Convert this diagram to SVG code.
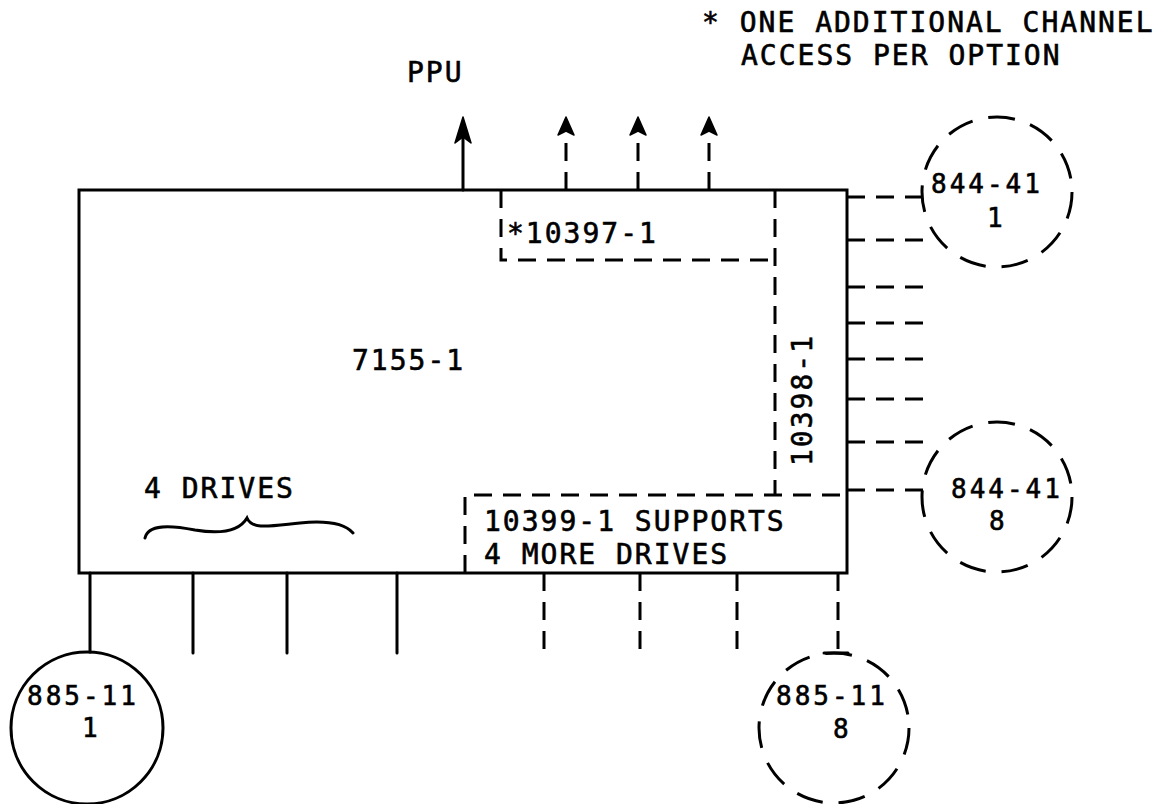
<svg xmlns="http://www.w3.org/2000/svg" width="1170" height="804" viewBox="0 0 1170 804">
<style>
text{font-family:"DejaVu Sans Mono","Liberation Mono",monospace;font-size:28px;letter-spacing:2px;fill:#000;stroke:#000;stroke-width:0.6}
.sm{font-size:26px;letter-spacing:3px}
.s{fill:none;stroke:#000;stroke-width:3;stroke-linecap:round}
.d{fill:none;stroke:#000;stroke-width:3;stroke-dasharray:18 11}
.dc{fill:none;stroke:#000;stroke-width:3;stroke-dasharray:27 16}
.ah{fill:#000;stroke:#000;stroke-width:1.5;stroke-linejoin:round}
</style>
<rect width="1170" height="804" fill="#fff"/>
<g id="note">
<text x="702" y="32">* ONE ADDITIONAL CHANNEL</text>
<text x="741" y="65">ACCESS PER OPTION</text>
</g>
<g id="n7155">
<rect class="s" x="79" y="190" width="768" height="383"/>
<text x="352" y="370">7155-1</text>
<text x="144" y="498">4 DRIVES</text>
<path class="s" d="M145,538 C148,524 170,525 195,530 C225,535 240,530 247,518 C252,530 270,526 300,523 C330,520 345,524 353,533"/>
</g>
<g id="n10397">
<path class="d" d="M501,190 L501,260 L775,260"/>
<text x="507" y="243">*10397-1</text>
</g>
<g id="n10398">
<path class="d" d="M775,190 L775,495"/>
<text transform="translate(812,400) rotate(-90)" text-anchor="middle">10398-1</text>
</g>
<g id="n10399">
<path class="d" d="M465,573 L465,495 L847,495"/>
<text x="484" y="531">10399-1 SUPPORTS</text>
<text x="484" y="564">4 MORE DRIVES</text>
</g>
<g id="ppu">
<text x="407" y="82">PPU</text>
</g>
<g id="c885a">
<circle cx="87" cy="728" r="76" fill="none" stroke="#000" stroke-width="3"/>
<text class="sm" x="27" y="705">885-11</text>
<text class="sm" x="82" y="737">1</text>
</g>
<g id="c885b">
<circle class="dc" cx="834" cy="728" r="75"/>
<text class="sm" x="776" y="705">885-11</text>
<text class="sm" x="833" y="738">8</text>
</g>
<g id="c844a">
<circle class="dc" cx="997" cy="192" r="75"/>
<text class="sm" x="931" y="193">844-41</text>
<text class="sm" x="987" y="227">1</text>
</g>
<g id="c844b">
<circle class="dc" cx="997" cy="497" r="75"/>
<text class="sm" x="951" y="498">844-41</text>
<text class="sm" x="989" y="530">8</text>
</g>
<g id="connectors">
<line class="s" x1="463" y1="190" x2="463" y2="130"/>
<path class="ah" d="M463,117 L471,143 L463,137 L455,143 Z"/>
<line class="d" x1="566" y1="190" x2="566" y2="136"/>
<path class="ah" d="M566,117 L574,135 L566,131 L558,135 Z"/>
<line class="d" x1="638" y1="190" x2="638" y2="136"/>
<path class="ah" d="M638,117 L646,135 L638,131 L630,135 Z"/>
<line class="d" x1="709" y1="190" x2="709" y2="136"/>
<path class="ah" d="M709,117 L717,135 L709,131 L701,135 Z"/>
<g class="d">
<line x1="847" y1="197" x2="924" y2="197"/>
<line x1="847" y1="240" x2="924" y2="240"/>
<line x1="847" y1="287" x2="924" y2="287"/>
<line x1="847" y1="323" x2="924" y2="323"/>
<line x1="847" y1="359" x2="924" y2="359"/>
<line x1="847" y1="399" x2="924" y2="399"/>
<line x1="847" y1="442" x2="924" y2="442"/>
<line x1="847" y1="490" x2="924" y2="490"/>
</g>
<line class="s" x1="90" y1="573" x2="90" y2="652"/>
<line class="s" x1="193" y1="573" x2="193" y2="653"/>
<line class="s" x1="287" y1="573" x2="287" y2="653"/>
<line class="s" x1="397" y1="573" x2="397" y2="653"/>
<line class="d" x1="544" y1="573" x2="544" y2="655"/>
<line class="d" x1="640" y1="573" x2="640" y2="655"/>
<line class="d" x1="737" y1="573" x2="737" y2="655"/>
<line class="d" x1="838" y1="573" x2="838" y2="653"/>
<line class="s" x1="824" y1="653" x2="848" y2="653"/>
</g>
</svg>
